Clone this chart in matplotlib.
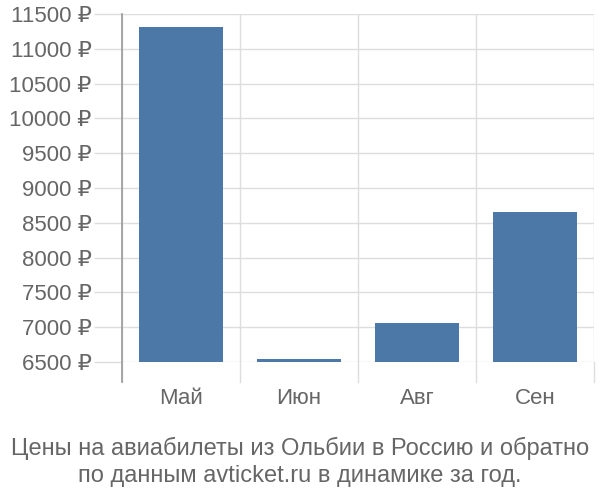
import matplotlib.pyplot as plt

# данные с графика
months = ["Май", "Июн", "Авг", "Сен"]
prices = [11318, 6540, 7060, 8655]
y_ticks = list(range(6500, 12000, 500))
title = "Цены на авиабилеты из Ольбии в Россию и обратно\nпо данным avticket.ru в динамике за год."

plt.rcParams["font.family"] = ["Liberation Sans", "DejaVu Sans"]

fig = plt.figure(figsize=(6, 5), dpi=100)
ax = fig.add_axes([122 / 600, 1 - 362 / 500, 472 / 600, 348 / 500])

x = range(len(months))
ax.bar(x, [p - 6500 for p in prices], bottom=6500, width=0.72, color="#4c78a8", zorder=3)

ax.set_xlim(-0.5, len(months) - 0.5)
ax.set_ylim(6500, 11500)
ax.set_yticks(y_ticks)
ax.set_yticklabels([f"{v} ₽" for v in y_ticks])
ax.set_xticks(x)
ax.set_xticklabels(months)

# сетка: горизонтальные по тикам, вертикальные между категориями
for v in y_ticks:
    ax.axhline(v, color="#dddddd", lw=1, zorder=1)
for b in [-0.5, 0.5, 1.5, 2.5, 3.5]:
    ax.plot([b, b], [6500, 11500], color="#dddddd", lw=1, zorder=1)
    ax.plot([b, b], [6500, 6500 - 20 / 348 * 5000], color="#dddddd", lw=1,
            zorder=1, clip_on=False)
ax.plot([-0.5, -0.5], [6500 - 20 / 348 * 5000, 11500], color="#999999", lw=1.2,
        zorder=4, clip_on=False)

for s in ax.spines.values():
    s.set_visible(False)
ax.tick_params(axis="y", length=20, color="#dddddd", width=1, pad=2,
               labelsize=16, labelcolor="#666666")
ax.tick_params(axis="x", length=0, pad=19, labelsize=16, labelcolor="#666666")

fig.text(0.5, 1 - 462 / 500, title, ha="center", va="center", fontsize=17,
         color="#666666", linespacing=1.3)

fig.savefig("out.png", dpi=100)
